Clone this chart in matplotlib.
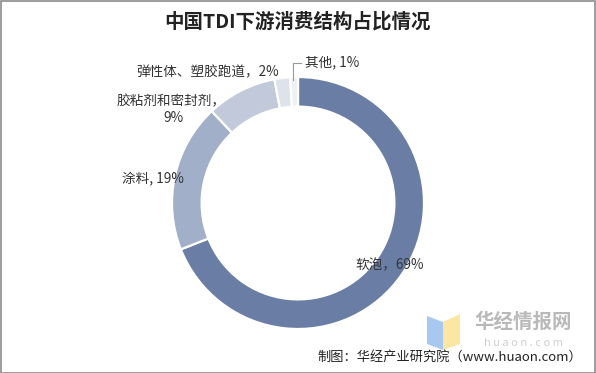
import matplotlib.pyplot as plt
from matplotlib.patches import Rectangle, Polygon

plt.rcParams['font.family'] = ['Noto Sans CJK SC', 'DejaVu Sans']

categories = ['软泡', '涂料', '胶粘剂和密封剂', '弹性体、塑胶跑道', '其他']
shares = [69, 19, 9, 2, 1]
colors = ['#6a7ea5', '#a2afc8', '#c1c9da', '#dde2eb', '#eef0f5']

W, H = 596, 373


def px(x, y):
    # pixel position (from top-left) to figure fraction
    return x / W, 1 - y / H


fig = plt.figure(figsize=(W / 100, H / 100), dpi=100)
fig.patch.set_facecolor('white')

# donut: centre ~(298, 203) px, radius ~126 px
cx, cy, r = 298, 203, 126
ax = fig.add_axes([(cx - r) / W, (H - cy - r) / H, 2 * r / W, 2 * r / H])
ax.pie(shares, colors=colors, startangle=90, counterclock=False,
       wedgeprops=dict(width=0.235, edgecolor='white', linewidth=1.6))
ax.set_xlim(-1, 1)
ax.set_ylim(-1, 1)
ax.set_aspect('equal')
ax.axis('off')

# title
fig.text(*px(298, 22), '中国TDI下游消费结构占比情况', ha='center', va='center',
         fontsize=14, fontweight='bold', color='#222222')

lab = dict(fontsize=9.8, color='#333333', va='center')
fig.text(*px(355, 265), f'{categories[0]}，{shares[0]}%', ha='left', **lab)
fig.text(*px(122, 178), f'{categories[1]}, {shares[1]}%', ha='left', **lab)
fig.text(*px(171, 101), f'{categories[2]}，', ha='center', **lab)
fig.text(*px(173, 118), f'{shares[2]}%', ha='center', **lab)
fig.text(*px(279, 72), f'{categories[3]}，{shares[3]}%', ha='right', **lab)
fig.text(*px(305, 62), f'{categories[4]}, {shares[4]}%', ha='left', **lab)

# leader line for 其他
x0, y0 = px(293, 80)
x1, y1 = px(293, 63)
x2, y2 = px(301, 63)
fig.add_artist(plt.Line2D([x0, x1, x2], [y0, y1, y2], color='#999999', lw=0.8))

# watermark logo
fig.add_artist(Polygon([px(427, 316), px(443, 322), px(443, 350), px(427, 344)],
                       closed=True, facecolor='#a9c8f0', edgecolor='none',
                       transform=fig.transFigure))
fig.add_artist(Polygon([px(443, 322), px(460, 314), px(460, 344), px(443, 350)],
                       closed=True, facecolor='#fbe6a3', edgecolor='none',
                       transform=fig.transFigure))
fig.text(*px(523, 322), '华经情报网', ha='center', va='center', fontsize=14,
         fontweight='bold', color='#b9b9b9')
fig.text(*px(523, 343), 'h u a o n . c o m', ha='center', va='center',
         fontsize=8, color='#d0d0d0')

# source
fig.text(*px(582, 357), '制图：华经产业研究院（www.huaon.com）', ha='right',
         va='center', fontsize=9.5, color='#222222')

# outer frame
fig.add_artist(Rectangle((0.5 / W, 0.5 / H), 1 - 1.5 / W, 1 - 1.5 / H,
                         transform=fig.transFigure, fill=False,
                         edgecolor='#8c8c8c', lw=1.2))

fig.savefig('out.png', dpi=100)
